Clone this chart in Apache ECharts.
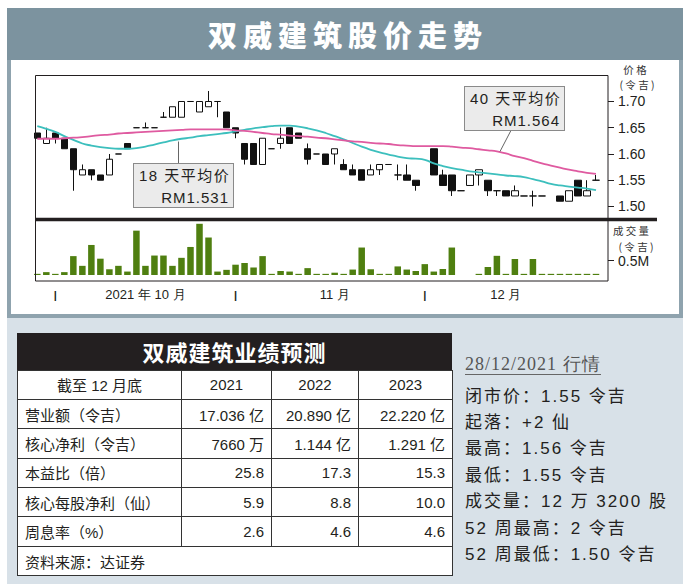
<!DOCTYPE html>
<html><head><meta charset="utf-8">
<script src="https://cdn.jsdelivr.net/npm/echarts@6/dist/echarts.min.js"></script>
<style>
html,body{margin:0;padding:0;background:#fff;}
body{width:690px;height:587px;position:relative;overflow:hidden;font-family:"Liberation Sans","Noto Sans CJK SC",sans-serif;color:#231f20;}
.abs{position:absolute;}
#titlebar{left:7px;top:8px;width:676px;height:52px;background:#7c939f;color:#fff;font-family:"Noto Sans CJK SC",sans-serif;font-weight:900;font-size:29px;letter-spacing:6px;padding-left:6px;box-sizing:border-box;text-align:center;line-height:52px;}
#toppanel{left:7px;top:60px;width:676px;height:258px;box-sizing:border-box;border:4px solid #8fa3ae;border-top:none;background:#fff;}
#botpanel{left:7px;top:318px;width:676px;height:266px;background:#d8e1e8;}
#chart{left:0;top:0;width:690px;height:320px;z-index:2;}
.side{position:absolute;width:60px;text-align:center;font-size:10.5px;line-height:14px;color:#333;z-index:3;font-family:"Noto Sans CJK SC",sans-serif;}
.callout{position:absolute;z-index:3;width:101px;height:45px;box-sizing:border-box;background:#ebebeb;border:1px solid #8a8a8a;font-size:15px;}
.callout .l1{position:absolute;left:5px;top:2px;line-height:20px;letter-spacing:1.5px;white-space:nowrap;}
.callout .l2{position:absolute;right:4px;top:24px;line-height:20px;letter-spacing:1px;white-space:nowrap;}
#tblWrap{left:17px;top:333px;width:435px;z-index:3;}
#tblTitle{height:36.5px;line-height:36.5px;background:#231f20;color:#fff;text-align:center;font-family:"Noto Sans CJK SC",sans-serif;font-weight:700;font-size:22px;letter-spacing:1px;}
table{border-collapse:collapse;table-layout:fixed;width:435px;background:#fff;font-size:15px;}
td{border:1px solid #333;height:28.4px;padding:0 7px;white-space:nowrap;overflow:hidden;}
td.num{text-align:right;}
td.hd{text-align:center;}
#info{left:465px;top:352px;z-index:3;}
#infoDate{position:absolute;left:0;top:2px;font-family:"Liberation Serif",serif;font-size:18px;letter-spacing:1px;color:#555;line-height:20px;border-bottom:1px solid #666;white-space:nowrap;}
#infoLines{position:absolute;left:0;top:31.5px;font-size:17px;line-height:26.4px;letter-spacing:2px;white-space:nowrap;color:#231f20;}
</style></head>
<body>
<div id="titlebar" class="abs">双威建筑股价走势</div>
<div id="toppanel" class="abs"></div>
<div id="botpanel" class="abs"></div>
<div id="chart" class="abs"></div>

<div class="side" style="left:605px;top:63px;">价 格</div>
<div class="side" style="left:607px;top:78px;">( 令 吉 )</div>
<div class="side" style="left:601px;top:224px;">成 交 量</div>
<div class="side" style="left:606px;top:240px;">( 令 吉 )</div>

<div class="callout" style="left:133px;top:163px;"><span class="l1">18 天平均价</span><span class="l2">RM1.531</span></div>
<div class="callout" style="left:464px;top:86px;"><span class="l1">40 天平均价</span><span class="l2">RM1.564</span></div>

<div id="tblWrap" class="abs"><div id="tblTitle">双威建筑业绩预测</div><table id="tbl"></table></div>

<div id="info" class="abs"><div id="infoDate">28/12/2021 行情</div><div id="infoLines"></div></div>

<script>
// ---- chart data ----
const dates = ['2021-09-29','2021-09-30','2021-10-01','2021-10-04','2021-10-05','2021-10-06','2021-10-07','2021-10-08','2021-10-11','2021-10-12','2021-10-13','2021-10-14','2021-10-15','2021-10-18','2021-10-20','2021-10-21','2021-10-22','2021-10-25','2021-10-26','2021-10-27','2021-10-28','2021-10-29','2021-11-01','2021-11-02','2021-11-03','2021-11-05','2021-11-08','2021-11-09','2021-11-10','2021-11-11','2021-11-12','2021-11-15','2021-11-16','2021-11-17','2021-11-18','2021-11-19','2021-11-22','2021-11-23','2021-11-24','2021-11-25','2021-11-26','2021-11-29','2021-11-30','2021-12-01','2021-12-02','2021-12-03','2021-12-06','2021-12-07','2021-12-08','2021-12-09','2021-12-10','2021-12-13','2021-12-14','2021-12-15','2021-12-16','2021-12-17','2021-12-20','2021-12-21','2021-12-22','2021-12-23','2021-12-24','2021-12-27','2021-12-28'];
const openP  = [1.64,1.62,1.64,1.63,1.61,1.56,1.57,1.56,1.56,1.60,1.62,1.65,1.65,1.65,1.67,1.67,1.67,1.70,1.68,1.69,1.70,1.68,1.65,1.62,1.62,1.58,1.61,1.62,1.65,1.64,1.61,1.60,1.60,1.60,1.58,1.57,1.57,1.56,1.57,1.58,1.56,1.56,1.55,null,1.61,1.56,1.56,1.53,1.54,1.56,1.55,1.53,1.53,1.52,1.52,1.52,1.52,null,1.52,1.51,1.55,1.52,1.55];
const closeP = [1.63,1.63,1.63,1.61,1.57,1.57,1.56,1.55,1.59,1.60,1.61,1.65,1.65,1.65,1.67,1.69,1.70,1.70,1.70,1.70,1.70,1.65,1.64,1.59,1.58,1.63,1.61,1.63,1.62,1.63,1.59,1.60,1.58,1.61,1.57,1.56,1.55,1.57,1.58,1.58,1.56,1.55,1.54,null,1.56,1.54,1.53,1.53,1.56,1.57,1.53,1.53,1.52,1.53,1.52,1.52,1.52,null,1.51,1.53,1.52,1.53,1.55];
const lowP   = [1.63,1.62,1.62,1.61,1.53,1.56,1.55,1.55,1.56,1.60,1.61,1.65,1.65,1.65,1.67,1.67,1.67,1.70,1.68,1.69,1.67,1.65,1.63,1.58,1.58,1.58,1.61,1.61,1.62,1.63,1.58,1.60,1.58,1.58,1.57,1.56,1.55,1.56,1.56,1.58,1.55,1.55,1.53,null,1.56,1.54,1.52,1.53,1.54,1.54,1.52,1.52,1.52,1.52,1.52,1.50,1.52,null,1.51,1.51,1.52,1.52,1.55];
const highP  = [1.64,1.65,1.64,1.63,1.61,1.58,1.57,1.56,1.60,1.60,1.62,1.65,1.66,1.65,1.68,1.69,1.70,1.70,1.70,1.72,1.70,1.68,1.65,1.62,1.62,1.63,1.61,1.65,1.65,1.64,1.62,1.60,1.60,1.61,1.59,1.58,1.57,1.58,1.58,1.58,1.58,1.58,1.55,null,1.61,1.57,1.56,1.53,1.56,1.57,1.55,1.53,1.53,1.54,1.52,1.53,1.52,null,1.52,1.53,1.55,1.55,1.56];
const volumeM = [0.04,0.10,0.04,0.10,0.66,0.32,1.05,0.57,0.20,0.32,0.12,1.55,0.32,0.68,0.68,0.32,0.60,0.98,1.79,1.31,0.12,0.18,0.36,0.42,0.26,0.66,0.04,0.14,0.12,0.04,0.24,0.04,0.04,0.08,0.04,0.19,0.96,0.20,0.04,0.04,0.30,0.19,0.14,0.38,0.12,0.21,0.96,0,0,0.04,0.28,0.67,0.04,0.56,0.04,0.56,0.04,0.04,0.04,0.04,0.04,0.04,0.04];
const ma18 = [1.653,1.648,1.642,1.634,1.627,1.620,1.616,1.613,1.611,1.610,1.610,1.611,1.614,1.618,1.622,1.626,1.629,1.631,1.634,1.636,1.638,1.640,1.643,1.646,1.649,1.651,1.653,1.654,1.654,1.652,1.649,1.645,1.640,1.634,1.628,1.621,1.614,1.608,1.603,1.599,1.595,1.592,1.591,1.589,1.582,1.577,1.573,1.570,1.567,1.565,1.563,1.561,1.559,1.558,1.556,1.552,1.548,1.543,1.540,1.538,1.536,1.534,1.531];
const ma40 = [1.629,1.629,1.629,1.630,1.631,1.632,1.634,1.636,1.637,1.639,1.640,1.641,1.642,1.643,1.644,1.645,1.646,1.647,1.647,1.647,1.647,1.647,1.645,1.644,1.642,1.640,1.638,1.637,1.635,1.634,1.633,1.631,1.630,1.628,1.626,1.624,1.623,1.621,1.620,1.619,1.617,1.616,1.615,1.615,1.615,1.615,1.614,1.612,1.611,1.609,1.607,1.605,1.601,1.596,1.592,1.587,1.582,1.578,1.574,1.570,1.567,1.564,1.562];
const priceTicks = [1.50,1.55,1.60,1.65,1.70];
const volumeTicks = [0.5];
const monthStartDates = ['2021-10-01','2021-11-01','2021-12-01'];
const monthLabelDates = ['2021-10-15','2021-11-17','2021-12-14'];
const monthLabelTexts = ['2021 年 10 月','11 月','12 月'];

// ---- table / info data ----
const tableYears = ['2021','2022','2023'];
const rowLabels = ['营业额（令吉）','核心净利（令吉）','本益比（倍）','核心每股净利（仙）','周息率（%）'];
const revenue = ['17.036 亿','20.890 亿','22.220 亿'];
const coreNetProfit = ['7660 万','1.144 亿','1.291 亿'];
const peRatio = ['25.8','17.3','15.3'];
const coreEps = ['5.9','8.8','10.0'];
const dividendYield = ['2.6','4.6','4.6'];
const infoLines = ['闭市价：1.55 令吉','起落：+2 仙','最高：1.56 令吉','最低：1.55 令吉','成交量：12 万 3200 股','52 周最高：2 令吉','52 周最低：1.50 令吉'];

// build table
(function(){
  const t = document.getElementById('tbl');
  let h = '<colgroup><col style="width:164px"><col style="width:90px"><col style="width:87px"><col style="width:94px"></colgroup>';
  h += '<tr><td class="hd">截至 12 月底</td>' + tableYears.map(y=>'<td class="hd">'+y+'</td>').join('') + '</tr>';
  const rows = [revenue, coreNetProfit, peRatio, coreEps, dividendYield];
  rows.forEach((r,i)=>{ h += '<tr><td>'+rowLabels[i]+'</td>' + r.map(v=>'<td class="num">'+v+'</td>').join('') + '</tr>'; });
  h += '<tr><td colspan="4">资料来源：达证券</td></tr>';
  t.innerHTML = h;
  document.getElementById('infoLines').innerHTML = infoLines.map(s=>'<div>'+s+'</div>').join('');
})();

const candleData = dates.map((d,i)=> openP[i]==null ? ['-','-','-','-'] : [openP[i], closeP[i], lowP[i], highP[i]]);

const chart = echarts.init(document.getElementById('chart'), null, {renderer:'svg'});
const axisTextStyle = {color:'#231f20', fontSize:14, fontFamily:'Liberation Sans'};
chart.setOption({
  animation:false,
  backgroundColor:'transparent',
  grid:[
    {left:37.3, width:558.7, top:75.25, height:144.35},
    {left:37.3, width:558.7, top:219.5, height:61.5}
  ],
  xAxis:[
    {type:'category', gridIndex:0, data:dates, boundaryGap:false, show:false},
    {type:'category', gridIndex:1, data:dates, boundaryGap:false, offset:9,
      axisLine:{show:false}, axisTick:{show:false},
      axisLabel:{show:true, margin:-2, interval:(i,v)=>monthLabelDates.indexOf(v)>=0,
        formatter:(v)=>{const k=monthLabelDates.indexOf(v); return k>=0?monthLabelTexts[k]:'';},
        color:'#231f20', fontSize:13, fontFamily:'Liberation Sans'},
      splitLine:{show:false}},
    {type:'category', gridIndex:1, data:dates, boundaryGap:false, offset:9, position:'bottom',
      axisLine:{show:false}, axisTick:{show:false}, splitLine:{show:false},
      axisLabel:{show:true, margin:-1, interval:(i,v)=>monthStartDates.indexOf(v)>=0,
        formatter:(v)=>monthStartDates.indexOf(v)>=0?'|':'',
        color:'#231f20', fontSize:11, fontWeight:'bold', fontFamily:'Liberation Sans'}}
  ],
  yAxis:[
    {type:'value', gridIndex:0, position:'right', offset:12, min:1.475, max:1.75, scale:true,
      axisLine:{show:false}, splitLine:{show:false},
      axisTick:{show:true, length:6, customValues:priceTicks, lineStyle:{color:'#231f20'}},
      axisLabel:Object.assign({margin:10, customValues:priceTicks, formatter:(v)=>v.toFixed(2)}, axisTextStyle)},
    {type:'value', gridIndex:1, position:'right', offset:12, min:-0.21, max:1.94,
      axisLine:{show:false}, splitLine:{show:false},
      axisTick:{show:true, length:6, customValues:volumeTicks, lineStyle:{color:'#231f20'}},
      axisLabel:Object.assign({margin:10, customValues:volumeTicks, formatter:(v)=>v.toFixed(1)+'M'}, axisTextStyle)}
  ],
  series:[
    {type:'candlestick', xAxisIndex:0, yAxisIndex:0, data:candleData, barWidth:7, z:2,
      itemStyle:{color:'#ffffff', color0:'#111111', borderColor:'#111111', borderColor0:'#111111', borderColorDoji:'#111111', borderWidth:1}},
    {type:'line', xAxisIndex:0, yAxisIndex:0, data:ma18, symbol:'none', smooth:true, z:3,
      lineStyle:{color:'#3cbfbd', width:1.8}},
    {type:'line', xAxisIndex:0, yAxisIndex:0, data:ma40, symbol:'none', smooth:true, z:3,
      lineStyle:{color:'#df5aa0', width:1.8}},
    {type:'bar', xAxisIndex:1, yAxisIndex:1, data:volumeM, barWidth:6.5, itemStyle:{color:'#4f7f10'}}
  ],
  graphic:[
    {type:'rect', silent:true, z:10, shape:{x:35.5,y:75.5,width:572.5,height:205.5}, style:{fill:'none', stroke:'#231f20', lineWidth:1}},
    {type:'line', silent:true, z:10, shape:{x1:36,y1:219.5,x2:657,y2:219.5}, style:{stroke:'#231f20', lineWidth:3.5}},
    {type:'line', silent:true, z:10, shape:{x1:178.5,y1:163,x2:178.5,y2:141.5}, style:{stroke:'#666', lineWidth:1}},
    {type:'line', silent:true, z:10, shape:{x1:510.7,y1:131,x2:500,y2:151.5}, style:{stroke:'#666', lineWidth:1}}
  ]
});
</script>
</body></html>
